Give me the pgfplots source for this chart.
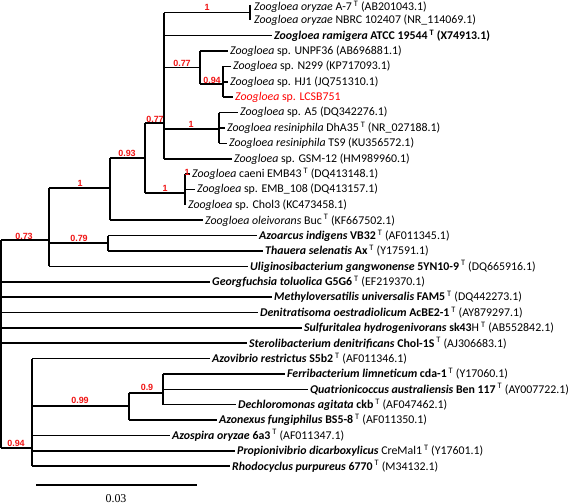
\documentclass[border=0pt]{standalone}
\usepackage{pgfplots}
\pgfplotsset{compat=1.18}
\usepackage{fontspec}
\setmainfont{Carlito}
\newfontfamily\bootfont{Liberation Sans}
\newfontfamily\scalefont{Liberation Serif}
\definecolor{bred}{RGB}{240,20,20}
\newcommand{\br}[4]{\addplot[black, line width=1.6bp, no marks] coordinates {(#1,#2)(#3,#4)};}
\newcommand{\Ts}{\,\textsuperscript{T}}
\tikzset{lab/.style={anchor=west, inner sep=0pt, font=\fontsize{11.9}{13}\selectfont},
  bs/.style={text=bred, inner sep=0pt, font=\bootfont\bfseries\fontsize{9}{9}\selectfont}}
\begin{document}
\begin{tikzpicture}
\begin{axis}[hide axis, scale only axis, width=568bp, height=504bp,
  xmin=0, xmax=568, ymin=0, ymax=504, y dir=reverse, clip=false]
% ---- root
\br{1}{240}{1}{448}
\br{1}{240}{49}{240}
\br{1}{281.7}{210}{281.7}
\br{1}{297.0}{272}{297.0}
\br{1}{312.4}{258}{312.4}
\br{1}{327.8}{302}{327.8}
\br{1}{343.1}{247}{343.1}
\br{1}{448}{32}{448}
% ---- 0.73 node
\br{49}{188}{49}{266.3}
\br{49}{188}{110}{188}
\br{49}{243}{108}{243}
\br{49}{266.3}{248}{266.3}
% 0.79 node
\br{108}{235.6}{108}{250.9}
\br{108}{235.6}{257}{235.6}
\br{108}{250.9}{263}{250.9}
% "1" node
\br{110}{158}{110}{220.2}
\br{110}{158}{145}{158}
\br{110}{220.2}{203}{220.2}
% 0.93 node
\br{145}{123}{145}{193}
\br{145}{123}{164}{123}
\br{145}{193}{185}{193}
% caeni node
\br{185}{174.1}{185}{204.8}
\br{185}{174.1}{190}{174.1}
\br{185}{189.4}{195}{189.4}
% 0.77 node
\br{164}{12.7}{164}{158.7}
\br{164}{12.7}{250}{12.7}
\br{164}{35.7}{272}{35.7}
\br{164}{67.7}{200}{67.7}
\br{164}{129}{219}{129}
\br{164}{158.7}{232}{158.7}
% oryzae node
\br{250}{5}{250}{20.4}
% upper 0.77 node
\br{200}{51.1}{200}{84}
\br{200}{51.1}{228}{51.1}
\br{200}{84}{223}{84}
% upper 0.94 node
\br{223}{66.5}{223}{97.2}
\br{223}{66.5}{231}{66.5}
\br{223}{81.9}{228}{81.9}
\br{223}{97.2}{233}{97.2}
% resiniphila node
\br{219}{112.6}{219}{143.3}
\br{219}{112.6}{238}{112.6}
\br{219}{128.0}{225}{128.0}
\br{219}{143.3}{227}{143.3}
% lower 0.94 node
\br{32}{358.5}{32}{466.1}
\br{32}{358.5}{210}{358.5}
\br{32}{406}{129}{406}
\br{32}{435.4}{170}{435.4}
\br{32}{450.7}{235}{450.7}
\br{32}{466.1}{230}{466.1}
% 0.99 node
\br{129}{393}{129}{420}
\br{129}{393}{163}{393}
\br{129}{420}{217}{420}
% 0.9 node
\br{163}{373.9}{163}{404.6}
\br{163}{373.9}{285}{373.9}
\br{163}{389.3}{308}{389.3}
\br{163}{404.6}{236}{404.6}
% scale bar
\br{36}{485}{197}{485}
% ---- bootstrap values
\node[bs] at (axis cs:207,7) {1};
\node[bs] at (axis cs:182,63) {0.77};
\node[bs] at (axis cs:212,80) {0.94};
\node[bs] at (axis cs:155,119) {0.77};
\node[bs] at (axis cs:191,124) {1};
\node[bs] at (axis cs:127,153) {0.93};
\node[bs] at (axis cs:187,172) {1};
\node[bs] at (axis cs:80,183) {1};
\node[bs] at (axis cs:165,188) {1};
\node[bs] at (axis cs:24,236) {0.73};
\node[bs] at (axis cs:79,238) {0.79};
\node[bs] at (axis cs:147,387) {0.9};
\node[bs] at (axis cs:80,400) {0.99};
\node[bs] at (axis cs:16,443) {0.94};
% ---- leaf labels
\node[lab] at (axis cs:254,6.6) {\textit{Zoogloea oryzae} A-7\Ts{} (AB201043.1)};
\node[lab] at (axis cs:254,20.4) {\textit{Zoogloea oryzae} NBRC 102407 (NR\_114069.1)};
\node[lab] at (axis cs:274,35.7) {\bfseries\textit{Zoogloea ramigera} ATCC 19544\Ts{} (X74913.1)};
\node[lab] at (axis cs:230,51.1) {\textit{Zoogloea} sp. UNPF36 (AB696881.1)};
\node[lab] at (axis cs:233,66.5) {\textit{Zoogloea} sp. N299 (KP717093.1)};
\node[lab] at (axis cs:230,81.9) {\textit{Zoogloea} sp. HJ1 (JQ751310.1)};
\node[lab, text=red] at (axis cs:235,97.2) {\textit{Zoogloea} sp. LCSB751};
\node[lab] at (axis cs:240,112.6) {\textit{Zoogloea} sp. A5 (DQ342276.1)};
\node[lab] at (axis cs:227,128.0) {\textit{Zoogloea resiniphila} DhA35\Ts{} (NR\_027188.1)};
\node[lab] at (axis cs:229,143.3) {\textit{Zoogloea resiniphila} TS9 (KU356572.1)};
\node[lab] at (axis cs:234,158.7) {\textit{Zoogloea} sp. GSM-12 (HM989960.1)};
\node[lab] at (axis cs:192,174.1) {\textit{Zoogloea} caeni EMB43\Ts{} (DQ413148.1)};
\node[lab] at (axis cs:197,189.4) {\textit{Zoogloea} sp. EMB\_108 (DQ413157.1)};
\node[lab] at (axis cs:188,204.8) {\textit{Zoogloea} sp. Chol3 (KC473458.1)};
\node[lab] at (axis cs:205,220.2) {\textit{Zoogloea oleivorans} Buc\Ts{} (KF667502.1)};
\node[lab] at (axis cs:259,235.6) {\textbf{\textit{Azoarcus indigens} VB32}\Ts{} (AF011345.1)};
\node[lab] at (axis cs:265,250.9) {\textbf{\textit{Thauera selenatis} Ax}\Ts{} (Y17591.1)};
\node[lab] at (axis cs:250,266.3) {\textbf{\textit{Uliginosibacterium gangwonense} 5YN10-9}\Ts{} (DQ665916.1)};
\node[lab] at (axis cs:212,281.7) {\textbf{\textit{Georgfuchsia toluolica} G5G6}\Ts{} (EF219370.1)};
\node[lab] at (axis cs:274,297.0) {\textbf{\textit{Methyloversatilis universalis} FAM5}\Ts{} (DQ442273.1)};
\node[lab] at (axis cs:260,312.4) {\textbf{\textit{Denitratisoma oestradiolicum} AcBE2-1}\Ts{} (AY879297.1)};
\node[lab] at (axis cs:304,327.8) {\textbf{\textit{Sulfuritalea hydrogenivorans} sk43}H\Ts{} (AB552842.1)};
\node[lab] at (axis cs:249,343.1) {\textbf{\textit{Sterolibacterium denitrificans} Chol-1S}\Ts{} (AJ306683.1)};
\node[lab] at (axis cs:212,358.5) {\textbf{\textit{Azovibrio restrictus} S5b2}\Ts{} (AF011346.1)};
\node[lab] at (axis cs:287,373.9) {\textbf{\textit{Ferribacterium limneticum} cda-1}\Ts{} (Y17060.1)};
\node[lab] at (axis cs:310,389.3) {\textbf{\textit{Quatrionicoccus australiensis} Ben 117}\Ts{} (AY007722.1)};
\node[lab] at (axis cs:238,404.6) {\textbf{\textit{Dechloromonas agitata} ckb}\Ts{} (AF047462.1)};
\node[lab] at (axis cs:219,420.0) {\textbf{\textit{Azonexus fungiphilus} BS5-8}\Ts{} (AF011350.1)};
\node[lab] at (axis cs:172,435.4) {\textbf{\textit{Azospira oryzae} 6a3}\Ts{} (AF011347.1)};
\node[lab] at (axis cs:237,450.7) {\textbf{\textit{Propionivibrio dicarboxylicus}} CreMal1\Ts{} (Y17601.1)};
\node[lab] at (axis cs:232,466.1) {\textbf{\textit{Rhodocyclus purpureus} 6770}\Ts{} (M34132.1)};
% scale label
\node[inner sep=0pt, font=\scalefont\fontsize{12}{12}\selectfont] at (axis cs:116,499) {0.03};
\coordinate (ll) at (axis cs:0,504);
\coordinate (ur) at (axis cs:568,0);
\end{axis}
\pgfresetboundingbox
\path[use as bounding box] (ll) rectangle (ur);
\end{tikzpicture}
\end{document}
